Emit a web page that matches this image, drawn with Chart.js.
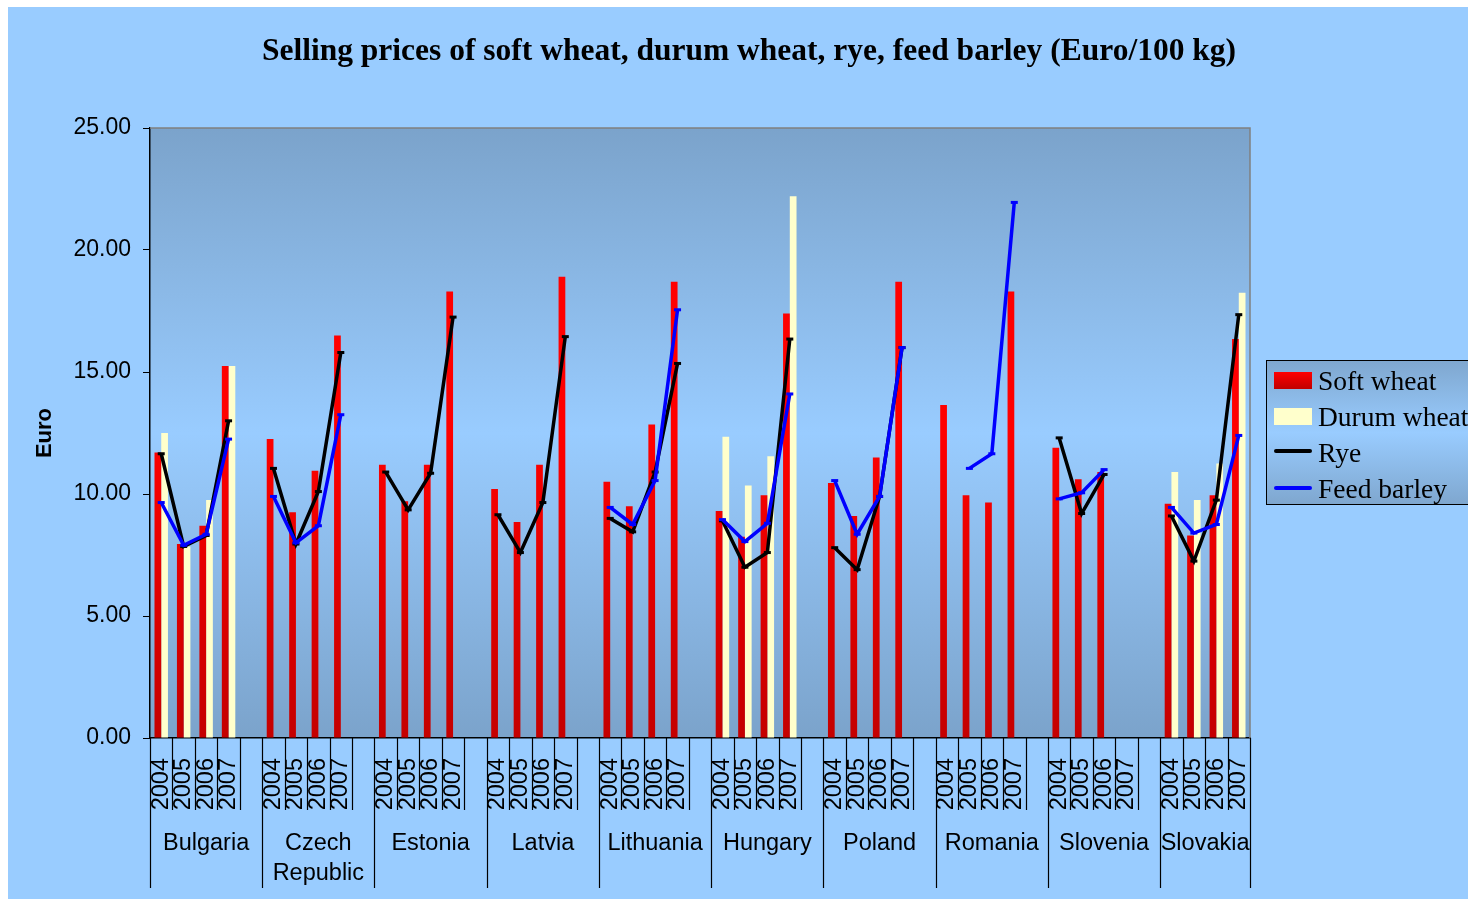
<!DOCTYPE html>
<html>
<head>
<meta charset="utf-8">
<script src="https://cdn.jsdelivr.net/npm/chart.js@4.4.0/dist/chart.umd.min.js"></script>
<style>
  html, body { margin: 0; padding: 0; background: #fff; overflow: hidden; }
  #frame { position: absolute; left: 8px; top: 7px; width: 1460px; height: 892px; background: #99ccff; }
  #title { position: absolute; left: 30px; width: 1438px; top: 32px; text-align: center;
           font: bold 31.5px "Liberation Serif", "Times New Roman", serif; color: #000; }
  #legend { position: absolute; left: 1266px; top: 360px; width: 260px; height: 143px;
            border: 1.5px solid #000; background: linear-gradient(#7fa7cf, #99ccff 50%, #7fa7cf);
            font: 27.5px "Liberation Serif", "Times New Roman", serif; color: #000; }
  .item { position: absolute; left: 51px; height: 36px; line-height: 36px; white-space: nowrap; }
  .sw { position: absolute; left: 7px; width: 38px; }
</style>
</head>
<body>
<div id="frame"><canvas id="myChart"></canvas></div>
<div id="title">Selling prices of soft wheat, durum wheat, rye, feed barley (Euro/100 kg)</div>
<div id="legend">
  <div class="sw" style="top:11px;height:17px;background:linear-gradient(#ff0000,#c00000)"></div>
  <div class="item" style="top:2px">Soft wheat</div>
  <div class="sw" style="top:47px;height:17px;background:#ffffcc"></div>
  <div class="item" style="top:38px">Durum wheat</div>
  <div class="sw" style="top:88px;height:4px;background:#000;border-radius:2px"></div>
  <div class="item" style="top:74px">Rye</div>
  <div class="sw" style="top:125px;height:4px;background:#0000ff;border-radius:2px"></div>
  <div class="item" style="top:110px">Feed barley</div>
</div>
<script>
const countries = ['Bulgaria', ['Czech', 'Republic'], 'Estonia', 'Latvia', 'Lithuania', 'Hungary', 'Poland', 'Romania', 'Slovenia', 'Slovakia'];
const years = ['2004', '2005', '2006', '2007'];

// 4 values per country, 2004-2007
const softWheat = [
  11.7, 7.95, 8.7, 15.25,
  12.25, 9.25, 10.95, 16.5,
  11.2, 9.7, 11.2, 18.3,
  10.2, 8.85, 11.2, 18.9,
  10.5, 9.5, 12.85, 18.7,
  9.3, 8.25, 9.95, 17.4,
  10.45, 9.1, 11.5, 18.7,
  13.65, 9.95, 9.65, 18.3,
  11.9, 10.6, 10.9, null,
  9.6, 8.3, 9.95, 16.35
];
const durumWheat = [
  12.5, 7.85, 9.75, 15.25,
  null, null, null, null,
  null, null, null, null,
  null, null, null, null,
  null, null, null, null,
  12.35, 10.35, 11.55, 22.2,
  null, null, null, null,
  null, null, null, null,
  null, null, null, null,
  10.9, 9.75, 11.25, 18.25
];
const rye = [
  11.65, 7.85, 8.3, 13.0,
  11.05, 7.95, 10.1, 15.8,
  10.9, 9.35, 10.85, 17.25,
  9.15, 7.6, 9.65, 16.45,
  9.0, 8.45, 10.9, 15.35,
  8.9, 7.0, 7.6, 16.35,
  7.8, 6.9, 9.9, 16.0,
  null, null, null, null,
  12.3, 9.2, 10.8, null,
  9.1, 7.25, 9.75, 17.35
];
const feedBarley = [
  9.65, 7.9, 8.35, 12.25,
  9.9, 8.0, 8.7, 13.25,
  null, null, null, null,
  null, null, null, null,
  9.45, 8.75, 10.55, 17.55,
  8.95, 8.05, 8.8, 14.1,
  10.55, 8.35, 9.9, 16.0,
  null, 11.05, 11.65, 21.95,
  9.8, 10.05, 11.0, null,
  9.45, 8.4, 8.75, 12.4
];

// empty slot between countries
const withGaps = (arr, fill) => countries.flatMap((c, i) => {
  const v = arr.slice(i * 4, i * 4 + 4);
  return i < countries.length - 1 ? [...v, fill] : v;
});
const labels = withGaps(countries.flatMap(() => years), '');

const sans = '"Liberation Sans", Arial, sans-serif';

const plotBg = {
  id: 'plotBg',
  beforeDraw(chart) {
    const { ctx, chartArea: a } = chart;
    const g = ctx.createLinearGradient(0, a.top, 0, a.bottom);
    g.addColorStop(0, '#7ba3cb');
    g.addColorStop(0.5, '#99ccff');
    g.addColorStop(1, '#7ba3cb');
    ctx.save();
    ctx.fillStyle = g;
    ctx.fillRect(a.left, a.top, a.right - a.left, a.bottom - a.top);
    ctx.restore();
  },
  afterDraw(chart) {
    const { ctx, chartArea: a } = chart;
    const x = chart.scales.x;
    const n = labels.length;
    const w = (a.right - a.left) / n;
    ctx.save();
    // top and right border of the plot
    ctx.strokeStyle = '#808080';
    ctx.lineWidth = 1.5;
    ctx.beginPath();
    ctx.moveTo(a.left, a.top); ctx.lineTo(a.right, a.top); ctx.lineTo(a.right, a.bottom);
    ctx.stroke();
    // separators under the axis
    ctx.strokeStyle = '#000';
    ctx.lineWidth = 1.2;
    for (let i = 0; i <= n; i++) {
      const px = Math.round(a.left + i * w) + 0.5;
      const long = i % 5 === 0 || i === n;
      ctx.beginPath();
      ctx.moveTo(px, a.bottom);
      ctx.lineTo(px, a.bottom + (long ? 150 : 72));
      ctx.stroke();
    }
    // country names
    ctx.fillStyle = '#000';
    ctx.font = '23.5px ' + sans;
    ctx.textAlign = 'center';
    ctx.textBaseline = 'middle';
    countries.forEach((c, i) => {
      const first = i * 5;
      const last = Math.min(first + 4, n - 1);
      const cx = (x.getPixelForValue(first) + x.getPixelForValue(last)) / 2;
      const lines = Array.isArray(c) ? c : [c];
      lines.forEach((t, j) => ctx.fillText(t, cx, a.bottom + 106 + j * 30));
    });
    ctx.restore();
  }
};

function redGradient(context) {
  const a = context.chart.chartArea;
  if (!a) return '#ff0000';
  const g = context.chart.ctx.createLinearGradient(0, a.bottom, 0, a.top);
  g.addColorStop(0, '#c40000');
  g.addColorStop(0.5, '#ff0000');
  g.addColorStop(1, '#ff0000');
  return g;
}

let config = {
  type: 'bar',
  data: {
    labels: labels,
    datasets: [{
      label: 'Feed barley',
      type: 'line',
      data: withGaps(feedBarley, null),
      borderColor: '#0000ff',
      backgroundColor: '#0000ff',
      borderWidth: 3.5,
      pointStyle: 'line',
      pointRadius: 3.5,
      pointBorderWidth: 3,
      spanGaps: false,
      order: 0
    }, {
      label: 'Rye',
      type: 'line',
      data: withGaps(rye, null),
      borderColor: '#000',
      backgroundColor: '#000',
      borderWidth: 3.5,
      pointStyle: 'line',
      pointRadius: 3.5,
      pointBorderWidth: 3,
      spanGaps: false,
      order: 1
    }, {
      label: 'Soft wheat',
      data: withGaps(softWheat, null),
      backgroundColor: redGradient,
      order: 2
    }, {
      label: 'Durum wheat',
      data: withGaps(durumWheat, null),
      backgroundColor: '#ffffcc',
      order: 2
    }]
  },
  options: {
    responsive: true,
    maintainAspectRatio: false,
    animation: false,
    layout: { padding: { top: 121, left: 20, right: 218, bottom: 0 } },
    datasets: { bar: { categoryPercentage: 0.6, barPercentage: 1 } },
    plugins: { legend: { display: false }, tooltip: { enabled: false }, title: { display: false } },
    scales: {
      x: {
        grid: { display: false, drawTicks: false, tickLength: 0 },
        border: { display: true, color: '#000', width: 1.5 },
        ticks: { autoSkip: false, minRotation: 90, maxRotation: 90, padding: 20, color: '#000', font: { family: sans, size: 23.5 } },
        afterFit(scale) { scale.height = 161; }
      },
      y: {
        min: 0,
        max: 25,
        grid: { drawOnChartArea: false, tickLength: 7, color: '#000' },
        border: { display: true, color: '#000', width: 1.5 },
        ticks: { stepSize: 5, padding: 12, color: '#000', font: { family: sans, size: 23 },
                 callback: v => v.toFixed(2) },
        title: { display: true, text: 'Euro', color: '#000', padding: { top: 4, bottom: 0 },
                 font: { family: sans, size: 22, weight: 'bold' } },
        afterFit(scale) { scale.width = 122; }
      }
    }
  },
  plugins: [plotBg]
};

window.onload = () => {
  new Chart(document.getElementById('myChart'), config);
};
</script>
</body>
</html>
